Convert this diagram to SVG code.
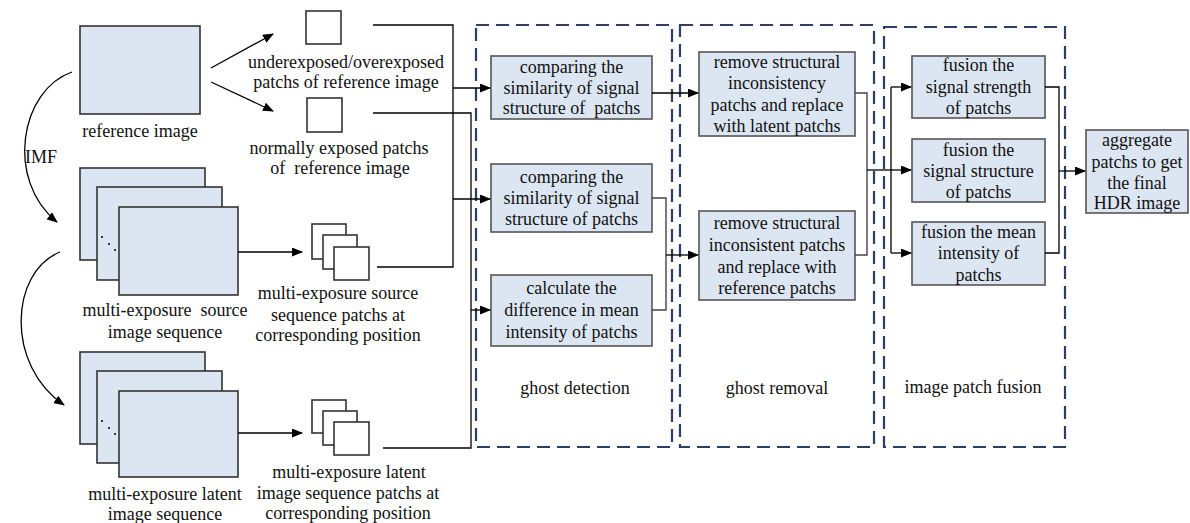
<svg xmlns="http://www.w3.org/2000/svg" width="1190" height="523" viewBox="0 0 1190 523">
<defs>
<marker id="ah" markerWidth="11" markerHeight="9" refX="10" refY="4.5" orient="auto" markerUnits="userSpaceOnUse">
<path d="M0,0 L11,4.5 L0,9 Z" fill="#000"/>
</marker>
</defs>
<style>
text{font-family:"Liberation Serif","Times New Roman",serif;font-size:18px;fill:#111;text-anchor:middle}
.img{fill:#dce6f2;stroke:#333;stroke-width:1.6}
.sq{fill:#fff;stroke:#333;stroke-width:1.6}
.box{fill:#dce6f2;stroke:#555;stroke-width:1.6}
.grp{fill:none;stroke:#2b3f66;stroke-width:2.2;stroke-dasharray:13 7}
.ln{fill:none;stroke:#000;stroke-width:1.3}
.ln2{fill:none;stroke:#444;stroke-width:1.4}
.arr{fill:none;stroke:#000;stroke-width:1.3;marker-end:url(#ah)}
</style>
<rect width="1190" height="523" fill="#fff"/>

<g id="groups">
<rect class="grp" x="476" y="25" width="196" height="422"/>
<rect class="grp" x="680" y="25" width="194" height="422"/>
<rect class="grp" x="884" y="27" width="181" height="420"/>
<text x="575" y="394">ghost detection</text>
<text x="777" y="394">ghost removal</text>
<text x="973" y="393">image patch fusion</text>
</g>

<g id="reference-image">
<rect class="img" x="80" y="26" width="120" height="88"/>
<text x="140" y="137">reference image</text>
</g>
<g id="IMF-label"><text x="41" y="163">IMF</text></g>

<g id="under-over-patch">
<rect class="sq" x="306" y="11" width="35" height="33"/>
<text x="346" y="68">underexposed/overexposed</text>
<text x="346" y="88">patchs of reference image</text>
</g>
<g id="normal-patch">
<rect class="sq" x="307" y="98" width="35" height="34"/>
<text x="339" y="154">normally exposed patchs</text>
<text x="340" y="174" xml:space="preserve">of  reference image</text>
</g>

<g id="source-sequence">
<rect class="img" x="80" y="168" width="125" height="92"/>
<rect class="img" x="97" y="187" width="125" height="93"/>
<rect class="img" x="119" y="207" width="119" height="88"/>
<circle cx="102" cy="237" r="1" fill="#000"/><circle cx="109" cy="244" r="1" fill="#000"/><circle cx="115" cy="250" r="1" fill="#000"/>
<text x="165" y="316" xml:space="preserve">multi-exposure  source</text>
<text x="165" y="338">image sequence</text>
</g>
<g id="source-patches">
<rect class="sq" x="312" y="224" width="34" height="35"/>
<rect class="sq" x="323" y="235" width="34" height="34"/>
<rect class="sq" x="334" y="247" width="35" height="33"/>
<text x="338" y="299">multi-exposure source</text>
<text x="338" y="321">sequence patchs at</text>
<text x="338" y="341">corresponding position</text>
</g>

<g id="latent-sequence">
<rect class="img" x="80" y="352" width="125" height="92"/>
<rect class="img" x="97" y="371" width="125" height="92"/>
<rect class="img" x="119" y="391" width="119" height="86"/>
<circle cx="102" cy="421" r="1" fill="#000"/><circle cx="109" cy="428" r="1" fill="#000"/><circle cx="115" cy="434" r="1" fill="#000"/>
<text x="165" y="500">multi-exposure latent</text>
<text x="165" y="520">image sequence</text>
</g>
<g id="latent-patches">
<rect class="sq" x="312" y="400" width="34" height="33"/>
<rect class="sq" x="323" y="411" width="34" height="34"/>
<rect class="sq" x="334" y="422" width="35" height="33"/>
<text x="349" y="478">multi-exposure latent</text>
<text x="348" y="499">image sequence patchs at</text>
<text x="348" y="519">corresponding position</text>
</g>

<g id="detect-1">
<rect class="box" x="491" y="56" width="161" height="63"/>
<text x="571.5" y="73">comparing the</text>
<text x="571.5" y="94">similarity of signal</text>
<text x="571.5" y="114" xml:space="preserve">structure of  patchs</text>
</g>
<g id="detect-2">
<rect class="box" x="491" y="164" width="161" height="68"/>
<text x="571.5" y="183">comparing the</text>
<text x="571.5" y="204">similarity of signal</text>
<text x="571.5" y="225">structure of patchs</text>
</g>
<g id="detect-3">
<rect class="box" x="491" y="275" width="161" height="71"/>
<text x="571.5" y="294">calculate the</text>
<text x="571.5" y="316">difference in mean</text>
<text x="571.5" y="338">intensity of patchs</text>
</g>

<g id="remove-1">
<rect class="box" x="699" y="52" width="156" height="84"/>
<text x="777" y="68">remove structural</text>
<text x="777" y="89">inconsistency</text>
<text x="777" y="111">patchs and replace</text>
<text x="777" y="132">with latent patchs</text>
</g>
<g id="remove-2">
<rect class="box" x="699" y="211" width="156" height="89"/>
<text x="777" y="229">remove structural</text>
<text x="777" y="251">inconsistent patchs</text>
<text x="777" y="273">and replace with</text>
<text x="777" y="294">reference patchs</text>
</g>

<g id="fusion-1">
<rect class="box" x="912" y="56" width="133" height="62"/>
<text x="978.5" y="71">fusion the</text>
<text x="978.5" y="93">signal strength</text>
<text x="978.5" y="114">of patchs</text>
</g>
<g id="fusion-2">
<rect class="box" x="912" y="139" width="133" height="63"/>
<text x="978.5" y="156">fusion the</text>
<text x="978.5" y="177">signal structure</text>
<text x="978.5" y="198">of patchs</text>
</g>
<g id="fusion-3">
<rect class="box" x="912" y="222" width="133" height="63"/>
<text x="978.5" y="238">fusion the mean</text>
<text x="978.5" y="259">intensity of</text>
<text x="978.5" y="281">patchs</text>
</g>
<g id="aggregate">
<rect class="box" x="1086" y="130" width="102" height="83"/>
<text x="1137" y="146">aggregate</text>
<text x="1137" y="168">patchs to get</text>
<text x="1137" y="189">the final</text>
<text x="1137" y="209">HDR image</text>
</g>

<g id="connectors">
<path class="arr" d="M72,72 C20,90 5,180 57,222"/>
<path class="arr" d="M60,252 C10,272 5,365 64,405"/>
<path class="arr" d="M211,68 L273,34"/>
<path class="arr" d="M211,82 L273,111"/>
<path class="arr" d="M238,252 L302,252"/>
<path class="arr" d="M238,433 L302,433"/>
<path class="ln" d="M373,25 H453 V267 H377"/>
<path class="arr" d="M453,88 H490"/>
<path class="arr" d="M453,199 H490"/>
<path class="ln" d="M373,113 H471 V448 H383"/>
<path class="arr" d="M471,310 H490"/>
<path class="arr" d="M652,93 H698"/>
<path class="ln2" d="M652,198 H666 V310 H652"/>
<path class="arr" d="M666,255 H698"/>
<path class="ln2" d="M855,93 H867 V255 H855"/>
<path class="ln" d="M867,170 H891"/>
<path class="ln" d="M891,87 V253"/>
<path class="arr" d="M891,87 H911"/>
<path class="arr" d="M891,170 H911"/>
<path class="arr" d="M891,253 H911"/>
<path class="ln" d="M1045,87 H1059 V253 H1045"/>
<path class="arr" d="M1059,171 H1085"/>
</g>
</svg>
